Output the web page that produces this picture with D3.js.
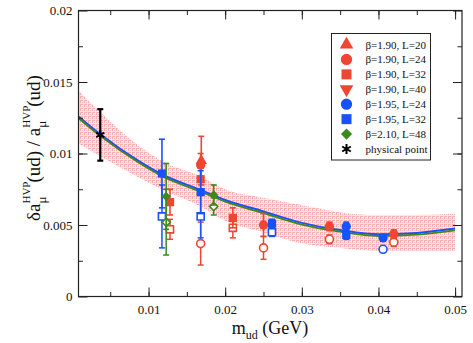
<!DOCTYPE html>
<html lang="en">
<head>
<meta charset="UTF-8">
<title>hvp ud</title>
<style>
  body { margin: 0; background: #fff; }
  svg text { font-family: "Liberation Serif", "DejaVu Serif", serif; fill: #111; }
  .axis path, .axis line { stroke: #222; }
</style>
</head>
<body>
<div id="chart"></div>
<script src="https://cdn.jsdelivr.net/npm/d3@7"></script>
<script>
// ---- data ----
var xTicks = [0.01, 0.02, 0.03, 0.04, 0.05];
var yTicks = [0, 0.005, 0.01, 0.015, 0.02];

// fit curve and error band
var fitX   = [0.00086, 0.0037, 0.0088, 0.0117, 0.0168, 0.020, 0.025, 0.030, 0.035, 0.040, 0.045, 0.050];
var fitY   = [0.01254, 0.0113, 0.0094, 0.0085, 0.0074, 0.0067, 0.0059, 0.0051, 0.0046, 0.0043, 0.0044, 0.0047];
var bandHi = [0.0144, 0.0129, 0.0105, 0.0095, 0.0084, 0.0075, 0.0069, 0.0064, 0.0059, 0.0057, 0.0057, 0.0058];
var bandLo = [0.0107, 0.0098, 0.0083, 0.0075, 0.0063, 0.0053, 0.0045, 0.0037, 0.0034, 0.0032, 0.0032, 0.0032];

// [m_ud, value, error]
var b190L20 = [[0.01688, 0.0095, 0.0017]];
var b190L24 = [[0.0168, 0.0092, 0.0008], [0.0250, 0.0050, 0.0008], [0.0336, 0.0049, 0.0003], [0.0420, 0.00436, 0.0003]];
var b190L24open = [[0.0168, 0.0037, 0.0015], [0.0250, 0.0034, 0.0008], [0.0336, 0.0040, 0.0003], [0.0420, 0.0038, 0.0003]];
var b190L32 = [[0.0128, 0.0066, 0.0009], [0.0168, 0.0082, 0.0008], [0.0210, 0.0055, 0.0007]];
var b190L32open = [[0.0128, 0.0047, 0.0007], [0.0210, 0.0048, 0.0007]];
var b190L40 = [];
var b195L24 = [[0.0358, 0.0049, 0.0003], [0.0406, 0.0041, 0.0002]];
var b195L24open = [[0.0406, 0.0033, 0.0002]];
var b195L32 = [[0.01175, 0.0086, 0.0024], [0.0168, 0.0073, 0.0015], [0.0261, 0.0051, 0.0003], [0.0358, 0.0043, 0.0003]];
var b195L32open = [[0.01175, 0.0056, 0.0022], [0.0168, 0.0056, 0.0015], [0.0261, 0.0045, 0.0003]];
var b210L48 = [[0.0123, 0.0070, 0.0023], [0.0185, 0.0071, 0.0007]];
var b210L48open = [[0.0123, 0.0052, 0.0023], [0.0185, 0.0063, 0.0006]];
var physPoint = [[0.0037, 0.0113, 0.0018]];

var legendLabels = ["β=1.90, L=20", "β=1.90, L=24", "β=1.90, L=32", "β=1.90, L=40",
                    "β=1.95, L=24", "β=1.95, L=32", "β=2.10, L=48", "physical point"];

var RED = "#ee4632", BLUE = "#1652ff", GREEN = "#3c8a1e";
var SERIF = "Liberation Serif";

var series = [
  { label: legendLabels[0], color: RED,   shape: d3.symbolTriangle, rot: 0,   filled: b190L20, open: [] },
  { label: legendLabels[1], color: RED,   shape: d3.symbolCircle,   rot: 0,   filled: b190L24, open: b190L24open },
  { label: legendLabels[2], color: RED,   shape: d3.symbolSquare,   rot: 0,   filled: b190L32, open: b190L32open },
  { label: legendLabels[3], color: RED,   shape: d3.symbolTriangle, rot: 180, filled: b190L40, open: [] },
  { label: legendLabels[4], color: BLUE,  shape: d3.symbolCircle,   rot: 0,   filled: b195L24, open: b195L24open },
  { label: legendLabels[5], color: BLUE,  shape: d3.symbolSquare,   rot: 0,   filled: b195L32, open: b195L32open },
  { label: legendLabels[6], color: GREEN, shape: d3.symbolSquare,   rot: 45,  filled: b210L48, open: b210L48open }
];

// ---- layout ----
var W = 473, H = 343;
var x = d3.scaleLinear().domain([0.00086, 0.0509]).range([78.5, 462]);
var y = d3.scaleLinear().domain([0, 0.02]).range([296.5, 10.5]);

var svg = d3.select("#chart").append("svg")
  .attr("width", W).attr("height", H)
  .attr("font-family", SERIF);

var defs = svg.append("defs");
var pat = defs.append("pattern").attr("id", "hatch")
  .attr("patternUnits", "userSpaceOnUse").attr("width", 4).attr("height", 4);
pat.append("rect").attr("width", 4).attr("height", 4).attr("fill", "#fde4e4");
pat.append("rect").attr("width", 3).attr("height", 1).attr("fill", "#f6b0b0");
pat.append("rect").attr("width", 1).attr("height", 3).attr("fill", "#f6b0b0");
pat.append("rect").attr("x", 2).attr("y", 2).attr("width", 1).attr("height", 1).attr("fill", "#f8bcbc");

defs.append("clipPath").attr("id", "clip").append("rect")
  .attr("x", x.range()[0]).attr("y", y.range()[1])
  .attr("width", x.range()[1] - x.range()[0]).attr("height", y.range()[0] - y.range()[1]);

var plot = svg.append("g").attr("clip-path", "url(#clip)");

// band
var bandData = fitX.map(function(d, i) { return { x: d, lo: bandLo[i], hi: bandHi[i] }; });
plot.append("path").datum(bandData)
  .attr("fill", "url(#hatch)")
  .attr("d", d3.area().curve(d3.curveMonotoneX)
    .x(function(d) { return x(d.x); })
    .y0(function(d) { return y(d.lo); })
    .y1(function(d) { return y(d.hi); }));

// fit lines (blue on top edge, green just under it)
var fitData = fitX.map(function(d, i) { return [d, fitY[i]]; });
var fitLine = d3.line().curve(d3.curveMonotoneX)
  .x(function(d) { return x(d[0]); }).y(function(d) { return y(d[1]); });
plot.append("path").datum(fitData).attr("fill", "none")
  .attr("stroke", BLUE).attr("stroke-width", 2).attr("d", fitLine)
  .attr("transform", "translate(0,-0.7)");
plot.append("path").datum(fitData).attr("fill", "none")
  .attr("stroke", GREEN).attr("stroke-width", 1.8).attr("d", fitLine)
  .attr("transform", "translate(0,1)");

// error bars + markers
function errBars(g, pts, color, w) {
  pts.forEach(function(p) {
    var cx = x(p[0]), t = y(p[1] + p[2]), b = y(p[1] - p[2]);
    g.append("line").attr("x1", cx).attr("x2", cx).attr("y1", t).attr("y2", b)
      .attr("stroke", color).attr("stroke-width", w);
    [t, b].forEach(function(yy) {
      g.append("line").attr("x1", cx - 3).attr("x2", cx + 3).attr("y1", yy).attr("y2", yy)
        .attr("stroke", color).attr("stroke-width", w);
    });
  });
}

var marks = svg.append("g");
series.forEach(function(s) {
  errBars(marks, s.open, s.color, 1.5);
  marks.selectAll(null).data(s.open).enter().append("path")
    .attr("d", d3.symbol().type(s.shape).size(s.rot === 45 ? 34 : 50))
    .attr("transform", function(d) { return "translate(" + x(d[0]) + "," + y(d[1]) + ") rotate(" + s.rot + ")"; })
    .attr("fill", "#fff").attr("stroke", s.color).attr("stroke-width", 1.6);
});
series.forEach(function(s) {
  errBars(marks, s.filled, s.color, 1.6);
  marks.selectAll(null).data(s.filled).enter().append("path")
    .attr("d", d3.symbol().type(s.shape).size(s.rot === 45 ? 44 : (s.shape === d3.symbolTriangle ? 56 : 68)))
    .attr("transform", function(d) { return "translate(" + x(d[0]) + "," + y(d[1]) + ") rotate(" + s.rot + ")"; })
    .attr("fill", s.color);
});

// physical point
errBars(marks, physPoint, "#000", 2.2);
marks.selectAll(null).data(physPoint).enter().append("path")
  .attr("d", d3.symbol().type(d3.symbolAsterisk).size(60))
  .attr("transform", function(d) { return "translate(" + x(d[0]) + "," + y(d[1]) + ")"; })
  .attr("fill", "none").attr("stroke", "#000").attr("stroke-width", 2);

// ---- axes ----
var xMinor = d3.range(0.005, 0.0501, 0.005);
var yMinor = d3.range(0.0025, 0.0199, 0.0025);

function tickAxis(axisFn, scale, vals, size, fmt) {
  return axisFn(scale).tickValues(vals).tickSizeInner(-size).tickSizeOuter(0)
    .tickFormat(fmt || "");
}

var x0 = x.range()[0], x1 = x.range()[1], y0 = y.range()[0], y1 = y.range()[1];

svg.append("g").attr("class", "axis").attr("transform", "translate(0," + y0 + ")")
  .call(tickAxis(d3.axisBottom, x, xMinor, 4.5));
svg.append("g").attr("class", "axis").attr("transform", "translate(0," + y1 + ")")
  .call(tickAxis(d3.axisTop, x, xMinor, 4.5));
svg.append("g").attr("class", "axis").attr("transform", "translate(" + x0 + ",0)")
  .call(tickAxis(d3.axisLeft, y, yMinor, 4.5));
svg.append("g").attr("class", "axis").attr("transform", "translate(" + x1 + ",0)")
  .call(tickAxis(d3.axisRight, y, yMinor, 4.5));

var xb = svg.append("g").attr("class", "axis").attr("transform", "translate(0," + y0 + ")")
  .call(tickAxis(d3.axisBottom, x, xTicks, 9, function(d) { return String(+d.toFixed(3)); }))
  .attr("font-family", SERIF).attr("font-size", 13);
xb.selectAll("text").attr("y", 8).attr("fill", "#111");
svg.append("g").attr("class", "axis").attr("transform", "translate(0," + y1 + ")")
  .call(tickAxis(d3.axisTop, x, xTicks, 9));
var yl = svg.append("g").attr("class", "axis").attr("transform", "translate(" + x0 + ",0)")
  .call(tickAxis(d3.axisLeft, y, yTicks, 9, function(d) { return String(+d.toFixed(3)); }))
  .attr("font-family", SERIF).attr("font-size", 13);
yl.selectAll("text").attr("x", -6).attr("fill", "#111");
svg.append("g").attr("class", "axis").attr("transform", "translate(" + x1 + ",0)")
  .call(tickAxis(d3.axisRight, y, yTicks, 9));
svg.selectAll(".axis .domain").remove();

svg.append("rect").attr("x", x0).attr("y", y1).attr("width", x1 - x0).attr("height", y0 - y1)
  .attr("fill", "none").attr("stroke", "#222").attr("stroke-width", 1.2);

// ---- axis titles ----
var xt = svg.append("text").attr("x", 270).attr("y", 334).attr("text-anchor", "middle").attr("font-size", 18);
xt.append("tspan").text("m");
xt.append("tspan").attr("dy", 5).attr("font-size", 12).text("ud");
xt.append("tspan").attr("dy", -5).text(" (GeV)");

var yt = svg.append("text").attr("transform", "translate(40,148) rotate(-90)")
  .attr("text-anchor", "middle").attr("font-size", 19);
yt.append("tspan").text("δa");
yt.append("tspan").attr("dy", -10).attr("dx", 0).attr("font-size", 11).text("HVP");
yt.append("tspan").attr("dy", 16).attr("dx", -22).attr("font-size", 13).text("μ");
yt.append("tspan").attr("dy", -6).attr("dx", 14).text("(ud) / a");
yt.append("tspan").attr("dy", -10).attr("font-size", 11).text("HVP");
yt.append("tspan").attr("dy", 16).attr("dx", -22).attr("font-size", 13).text("μ");
yt.append("tspan").attr("dy", -6).attr("dx", 14).text("(ud)");

// ---- legend ----
var lg = svg.append("g");
lg.append("rect").attr("x", 331.5).attr("y", 33.5).attr("width", 99).attr("height", 126.5)
  .attr("fill", "#fff").attr("stroke", "#222").attr("stroke-width", 1);
var rowY = d3.scaleLinear().domain([0, 7]).range([44.5, 149]);
series.forEach(function(s, i) {
  lg.append("path")
    .attr("d", d3.symbol().type(s.shape).size(s.rot === 45 ? 62 : (s.shape === d3.symbolTriangle ? 80 : 100)))
    .attr("transform", "translate(346.5," + rowY(i) + ") rotate(" + s.rot + ")")
    .attr("fill", s.color);
  lg.append("text").attr("x", 365.5).attr("y", rowY(i) + 4).attr("font-size", 11).text(s.label);
});
lg.append("path").attr("d", d3.symbol().type(d3.symbolAsterisk).size(70))
  .attr("transform", "translate(346.5," + rowY(7) + ")")
  .attr("fill", "none").attr("stroke", "#000").attr("stroke-width", 2);
lg.append("text").attr("x", 365.5).attr("y", rowY(7) + 4).attr("font-size", 11).text(legendLabels[7]);
</script>
</body>
</html>
